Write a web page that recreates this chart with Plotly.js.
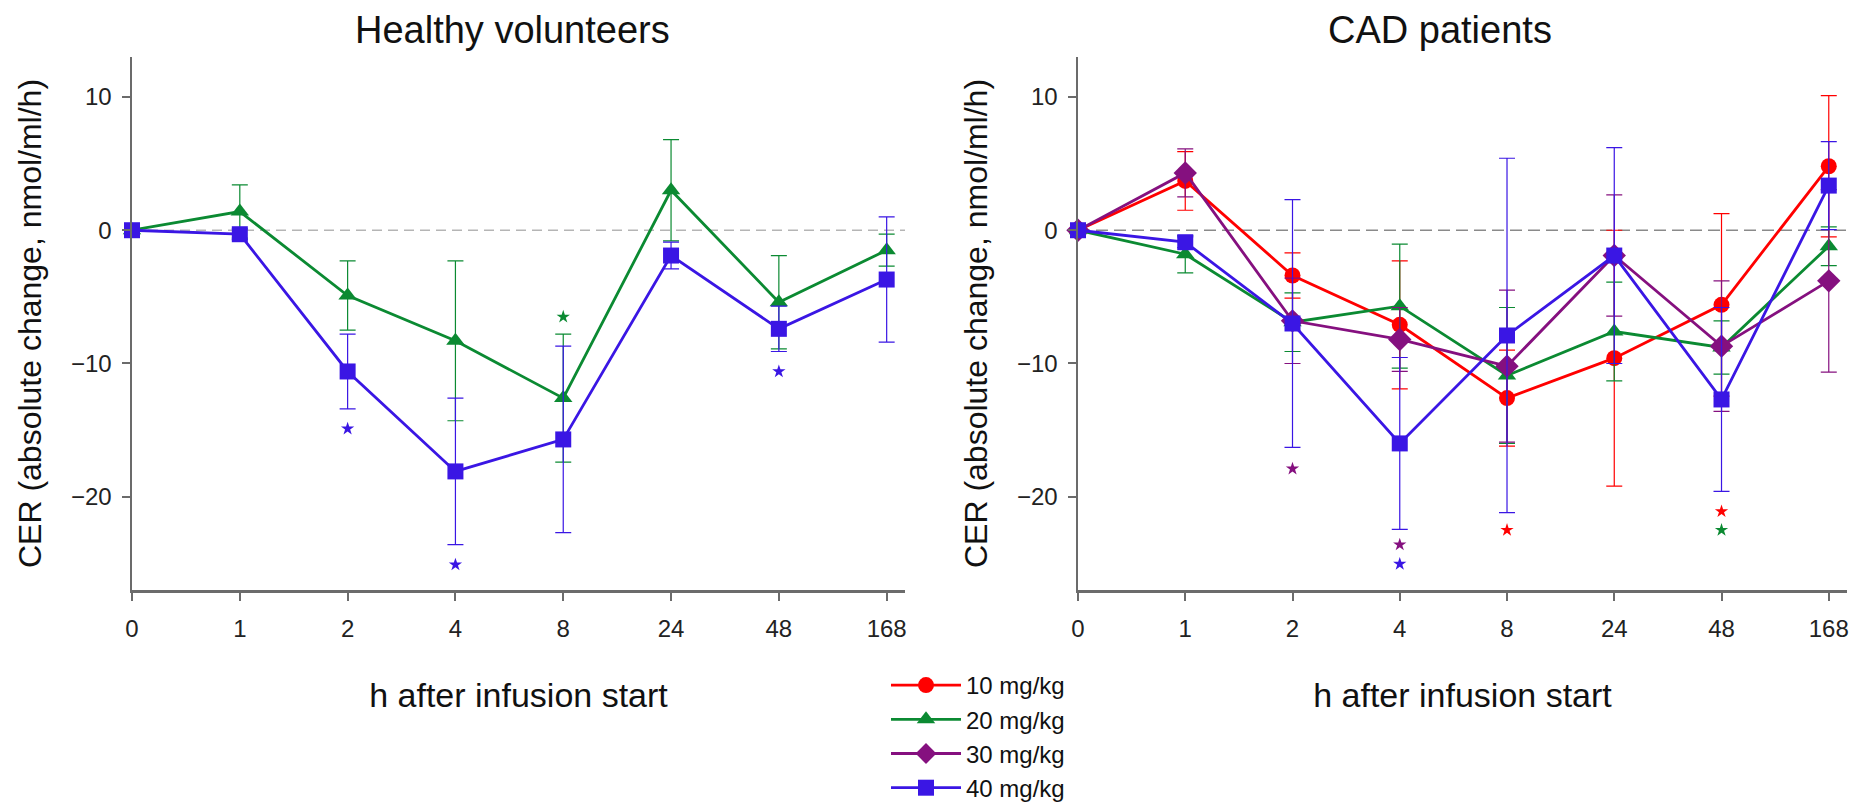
<!DOCTYPE html>
<html>
<head>
<meta charset="utf-8">
<script src="https://cdn.plot.ly/plotly-3.0.1.min.js"></script>
<style>
  html, body { margin: 0; padding: 0; background: #fff; }
  #chart { width: 1862px; height: 804px; }
</style>
</head>
<body>
<div id="chart"></div>
<script>
// ---- categories ----
const hours = ['0', '1', '2', '4', '8', '24', '48', '168'];

// ---- Healthy volunteers (mean, SD) ----
const hv20 = [0, 1.4, -4.9, -8.3, -12.6, 3.0, -5.4, -1.5];
const hv20Err = [null, 2.0, 2.6, 6.0, 4.8, 3.8, 3.5, 1.2];
const hv40 = [0, -0.3, -10.6, -18.1, -15.7, -1.9, -7.4, -3.7];
const hv40Err = [null, 0.4, 2.8, 5.5, 7.0, 1.0, 1.7, 4.7];

// ---- CAD patients (mean, SD) ----
const cad10 = [0, 3.7, -3.4, -7.1, -12.6, -9.6, -5.6, 4.8];
const cad10Err = [null, 2.2, 1.7, 4.8, 3.6, 9.6, 6.85, 5.3];
const cad20 = [0, -1.8, -6.9, -5.7, -10.9, -7.6, -8.8, -1.2];
const cad20Err = [null, 1.4, 2.2, 4.65, 5.1, 3.7, 2.0, 1.45];
const cad30 = [0, 4.3, -6.8, -8.2, -10.2, -1.9, -8.7, -3.8];
const cad30Err = [null, 1.8, 3.2, 2.4, 5.7, 4.55, 4.9, 6.85];
const cad40 = [0, -0.9, -7.0, -16.0, -7.9, -1.9, -12.7, 3.35];
const cad40Err = [null, 0.4, 9.3, 6.45, 13.3, 8.1, 6.9, 3.3];

// ---- significance stars (category label, y) ----
const hvStar20 = {h: ['8'], y: [-6.5]};
const hvStar40 = {h: ['2', '4', '48'], y: [-14.9, -25.1, -10.6]};
const cadStar10 = {h: ['8', '48'], y: [-22.5, -21.1]};
const cadStar20 = {h: ['48'], y: [-22.5]};
const cadStar30 = {h: ['2', '4'], y: [-17.9, -23.6]};
const cadStar40 = {h: ['4'], y: [-25.05]};

const doseNames = ['10 mg/kg', '20 mg/kg', '30 mg/kg', '40 mg/kg'];
const colors = {c10: '#ff0000', c20: '#0b8a32', c30: '#85107f', c40: '#3a16e4'};
const symbols = {c10: 'circle', c20: 'triangle-up', c30: 'diamond', c40: 'square'};

const xIdx = hours.map((_, i) => i);
const pos = h => hours.indexOf(h);
const FONT = '"Liberation Sans", Arial, sans-serif';

// page geometry
const W = 1862, H = 804, ML = 70, MR = 8, MT = 57, MB = 214;
const px = v => (v - ML) / (W - ML - MR);
const py = v => (H - MB - v) / (H - MT - MB);

function series(y, err, key, name, xa, ya, showlegend) {
  return {
    type: 'scatter', mode: 'lines+markers',
    x: xIdx, y: y, name: name, legendgroup: key, showlegend: showlegend,
    xaxis: xa, yaxis: ya, cliponaxis: false,
    line: {color: colors[key], width: 2.8},
    marker: {color: colors[key], symbol: symbols[key], size: key === 'c30' ? 18 : 16, line: {width: 0}},
    error_y: {type: 'data', array: err, visible: true, color: colors[key], thickness: 1.2, width: 8}
  };
}
function stars(s, key, xa, ya) {
  return {
    type: 'scatter', mode: 'markers', x: s.h.map(pos), y: s.y, showlegend: false,
    xaxis: xa, yaxis: ya, cliponaxis: false, hoverinfo: 'skip',
    marker: {symbol: 'star', size: 10, color: colors[key]}
  };
}

const traces = [
  series(hv20, hv20Err, 'c20', doseNames[1], 'x', 'y', false),
  series(hv40, hv40Err, 'c40', doseNames[3], 'x', 'y', false),
  stars(hvStar20, 'c20', 'x', 'y'),
  stars(hvStar40, 'c40', 'x', 'y'),
  series(cad10, cad10Err, 'c10', doseNames[0], 'x2', 'y2', true),
  series(cad20, cad20Err, 'c20', doseNames[1], 'x2', 'y2', true),
  series(cad30, cad30Err, 'c30', doseNames[2], 'x2', 'y2', true),
  series(cad40, cad40Err, 'c40', doseNames[3], 'x2', 'y2', true),
  stars(cadStar10, 'c10', 'x2', 'y2'),
  stars(cadStar20, 'c20', 'x2', 'y2'),
  stars(cadStar30, 'c30', 'x2', 'y2'),
  stars(cadStar40, 'c40', 'x2', 'y2')
];

const axisColor = '#6b6b6b';
function xAxis(domain, anchor) {
  return {
    domain: domain, anchor: anchor, range: [0, 7.17],
    tickvals: xIdx, ticktext: hours,
    showline: true, linecolor: axisColor, linewidth: 2.5,
    ticks: 'outside', ticklen: 8, tickwidth: 2, tickcolor: axisColor,
    ticklabelstandoff: 8,
    showgrid: false, zeroline: false, automargin: false,
    tickfont: {family: FONT, size: 24, color: '#222'},
    title: {text: 'h after infusion start', font: {family: FONT, size: 34, color: '#111'}, standoff: 42}
  };
}
function yAxis(anchor) {
  return {
    anchor: anchor, domain: [0, 1], range: [-27, 13],
    tickvals: [-20, -10, 0, 10],
    showline: true, linecolor: axisColor, linewidth: 2.5,
    ticks: 'outside', ticklen: 8, tickwidth: 2, tickcolor: axisColor,
    ticklabelstandoff: 5,
    showgrid: false, zeroline: false, automargin: false,
    tickfont: {family: FONT, size: 24, color: '#222'},
    title: {text: 'CER (absolute change, nmol/ml/h)', font: {family: FONT, size: 32, color: '#111'}, standoff: 20}
  };
}

const layout = {
  width: W, height: H, autosize: false,
  margin: {l: ML, r: MR, t: MT, b: MB, pad: 0, autoexpand: false},
  paper_bgcolor: '#fff', plot_bgcolor: '#fff',
  font: {family: FONT, color: '#111'},
  showlegend: true,
  xaxis: xAxis([px(132), px(905)], 'y'),
  yaxis: yAxis('x'),
  xaxis2: xAxis([px(1078), px(1847)], 'y2'),
  yaxis2: yAxis('x2'),
  legend: {
    x: px(886), y: py(663),
    xanchor: 'left', yanchor: 'top', font: {family: FONT, size: 24, color: '#111'},
    itemwidth: 70,
    bgcolor: 'rgba(0,0,0,0)', tracegroupgap: 0, itemsizing: 'trace', traceorder: 'normal'
  },
  shapes: [
    {type: 'line', xref: 'x', yref: 'y', x0: 0, x1: 7.17, y0: 0, y1: 0, layer: 'below',
     line: {color: '#b5b5b5', width: 1.6, dash: '10px,6px'}},
    {type: 'line', xref: 'x2', yref: 'y2', x0: 0, x1: 7.17, y0: 0, y1: 0, layer: 'below',
     line: {color: '#8a8a8a', width: 1.6, dash: '12px,6px'}}
  ],
  annotations: [
    {text: 'Healthy volunteers', xref: 'paper', yref: 'paper', x: px(512), y: py(30),
     xanchor: 'center', yanchor: 'middle', showarrow: false, font: {family: FONT, size: 38, color: '#111'}},
    {text: 'CAD patients', xref: 'paper', yref: 'paper', x: px(1440), y: py(30),
     xanchor: 'center', yanchor: 'middle', showarrow: false, font: {family: FONT, size: 38, color: '#111'}}
  ]
};

Plotly.newPlot('chart', traces, layout, {displayModeBar: false, staticPlot: true});
</script>
</body>
</html>
